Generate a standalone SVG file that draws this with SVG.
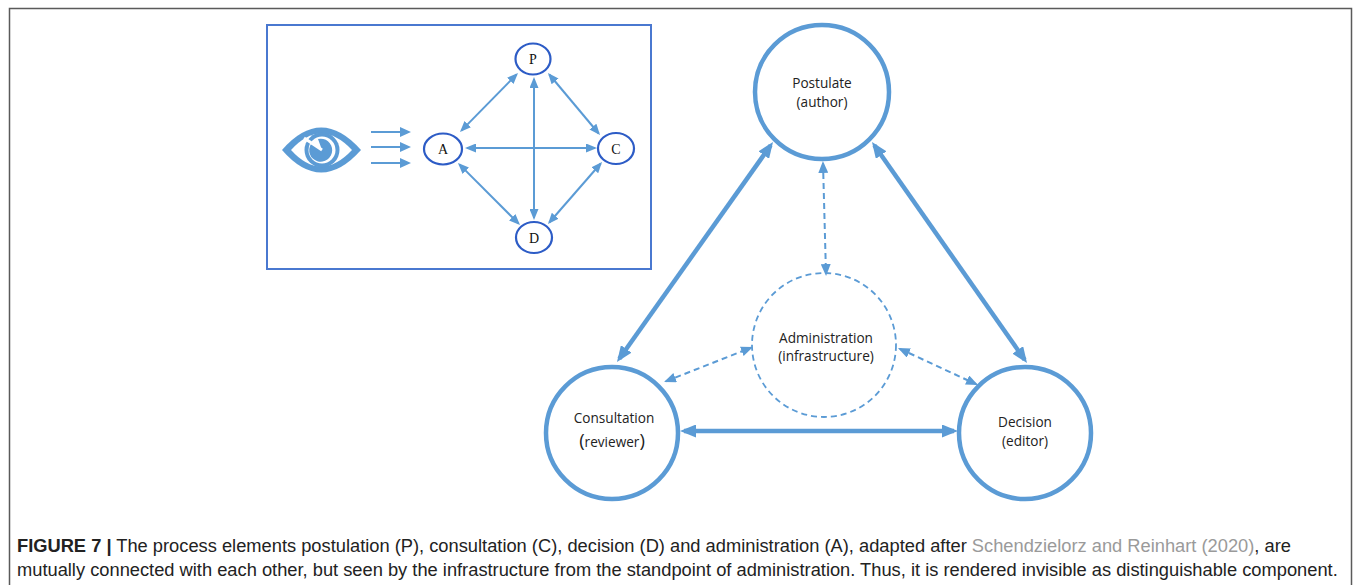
<svg xmlns="http://www.w3.org/2000/svg" width="1355" height="585" viewBox="0 0 1355 585">
<style>
  .frame{fill:none;stroke:#5a5a5a;stroke-width:1.5}
  .inbox{fill:#fff;stroke:#4a78d0;stroke-width:2}
  .ell{fill:#fff;stroke:#2d5cc6;stroke-width:2.2}
  .big{fill:#fff;stroke:#5b9bd5;stroke-width:4.5}
  .adm{fill:none;stroke:#5b9bd5;stroke-width:1.8;stroke-dasharray:6 4}
  .ln{stroke:#5b9bd5;stroke-width:2;fill:none}
  .thick{stroke:#5b9bd5;stroke-width:4.5;fill:none}
  .dash{stroke:#5b9bd5;stroke-width:2;fill:none;stroke-dasharray:6 4}
  .ser{font-family:"Liberation Serif","Times New Roman",serif;font-size:14px;fill:#111;text-anchor:middle}
  .lab{font-family:"Open Sans","Noto Sans",sans-serif;font-size:13.6px;fill:#222;text-anchor:middle}
  .cap{font-family:"Liberation Sans",Arial,sans-serif;font-size:18.3px;fill:#222}
</style>
<defs>
  <marker id="ms" markerUnits="userSpaceOnUse" markerWidth="11" markerHeight="9" refX="9" refY="4.5" orient="auto-start-reverse">
    <path d="M0,0 L11,4.5 L0,9 Z" fill="#5b9bd5"/>
  </marker>
  <marker id="mb" markerUnits="userSpaceOnUse" markerWidth="16" markerHeight="13" refX="12" refY="6.5" orient="auto-start-reverse">
    <path d="M0,0 L16,6.5 L0,13 Z" fill="#5b9bd5"/>
  </marker>
  <marker id="md" markerUnits="userSpaceOnUse" markerWidth="12" markerHeight="10" refX="10" refY="5" orient="auto-start-reverse">
    <path d="M0,0 L12,5 L0,10 Z" fill="#5b9bd5"/>
  </marker>
</defs>
<rect width="1355" height="585" fill="#fff"/>
<path class="frame" d="M9.5,585 V8.5 H1351.5 V585"/>

<g id="inset">
  <rect class="inbox" x="267" y="25" width="384" height="244"/>
  <g id="eye">
    <path d="M282,150 Q321,105 361,150 Q321,195 282,150 Z" fill="#5b9bd5"/>
    <path d="M291,150 Q321,117 352,150 Q321,183 291,150 Z" fill="#fff"/>
    <circle cx="322" cy="150" r="17.5" fill="#5b9bd5"/>
    <circle cx="322" cy="150" r="13.5" fill="#fff"/>
    <path d="M322,150 L311,144 A11.5,11.5 0 1 0 318,139 Z" fill="#5b9bd5"/>
    <path d="M322,150 L304,138" stroke="#fff" stroke-width="3"/>
  </g>
  <g id="eye-arrows">
    <line class="ln" x1="371" y1="132" x2="402" y2="132"/>
    <line class="ln" x1="371" y1="147" x2="402" y2="147"/>
    <line class="ln" x1="371" y1="163" x2="402" y2="163"/>
    <path d="M400,127 L411,132 L400,137 Z M400,142 L411,147 L400,152 Z M400,158 L411,163 L400,168 Z" fill="#5b9bd5"/>
  </g>
  <g id="inset-connectors">
    <line class="ln" x1="516.6" y1="74.4" x2="461.4" y2="130.6" marker-start="url(#ms)" marker-end="url(#ms)"/>
    <line class="ln" x1="549.3" y1="74.5" x2="598.7" y2="133.5" marker-start="url(#ms)" marker-end="url(#ms)"/>
    <line class="ln" x1="467" y1="148" x2="595" y2="148" marker-start="url(#ms)" marker-end="url(#ms)"/>
    <line class="ln" x1="534" y1="79" x2="534" y2="218" marker-start="url(#ms)" marker-end="url(#ms)"/>
    <line class="ln" x1="459.4" y1="164.4" x2="518.6" y2="223.6" marker-start="url(#ms)" marker-end="url(#ms)"/>
    <line class="ln" x1="600.7" y1="163.5" x2="549.3" y2="222.5" marker-start="url(#ms)" marker-end="url(#ms)"/>
  </g>
  <g id="nP"><ellipse class="ell" cx="533" cy="59" rx="17.5" ry="15.5"/><text class="ser" x="533" y="64">P</text></g>
  <g id="nA"><ellipse class="ell" cx="443" cy="149" rx="19" ry="15.5"/><text class="ser" x="443" y="154">A</text></g>
  <g id="nC"><ellipse class="ell" cx="616" cy="148.5" rx="18" ry="15.5"/><text class="ser" x="616" y="153.5">C</text></g>
  <g id="nD"><ellipse class="ell" cx="534" cy="237.5" rx="18" ry="15.5"/><text class="ser" x="534" y="242.5">D</text></g>
</g>

<g id="connectors">
  <line class="thick" x1="770.7" y1="145.3" x2="619.3" y2="358.7" marker-start="url(#mb)" marker-end="url(#mb)"/>
  <line class="thick" x1="874.3" y1="145.3" x2="1024.7" y2="359.7" marker-start="url(#mb)" marker-end="url(#mb)"/>
  <line class="thick" x1="684" y1="431" x2="954" y2="431" marker-start="url(#mb)" marker-end="url(#mb)"/>
  <line class="dash" x1="823" y1="163" x2="826" y2="274" marker-start="url(#md)" marker-end="url(#md)"/>
  <line class="dash" x1="665.9" y1="381.3" x2="751.1" y2="347.7" marker-start="url(#md)" marker-end="url(#md)"/>
  <line class="dash" x1="899.8" y1="348.8" x2="976.2" y2="384.2" marker-start="url(#md)" marker-end="url(#md)"/>
</g>

<g id="postulate">
  <circle class="big" cx="822" cy="92" r="67"/>
  <text class="lab" x="822" y="88">Postulate</text>
  <text class="lab" x="822" y="107">(author)</text>
</g>
<g id="administration">
  <circle class="adm" cx="824" cy="345" r="72"/>
  <text class="lab" x="826" y="343">Administration</text>
  <text class="lab" x="826" y="361">(infrastructure)</text>
</g>
<g id="consultation">
  <circle class="big" cx="612" cy="433" r="66"/>
  <text class="lab" x="614" y="423">Consultation</text>
  <text class="lab" x="612" y="447"><tspan font-size="18.5">(</tspan>reviewer<tspan font-size="18.5">)</tspan></text>
</g>
<g id="decision">
  <circle class="big" cx="1025" cy="433" r="66"/>
  <text class="lab" x="1025" y="427">Decision</text>
  <text class="lab" x="1025" y="446">(editor)</text>
</g>

<g id="caption">
  <text class="cap" x="17" y="552"><tspan font-weight="bold">FIGURE 7 |</tspan> The process elements postulation (P), consultation (C), decision (D) and administration (A), adapted after <tspan fill="#9a9a9a">Schendzielorz and Reinhart (2020)</tspan>, are</text>
  <text class="cap" x="17" y="576">mutually connected with each other, but seen by the infrastructure from the standpoint of administration. Thus, it is rendered invisible as distinguishable component.</text>
</g>
</svg>
